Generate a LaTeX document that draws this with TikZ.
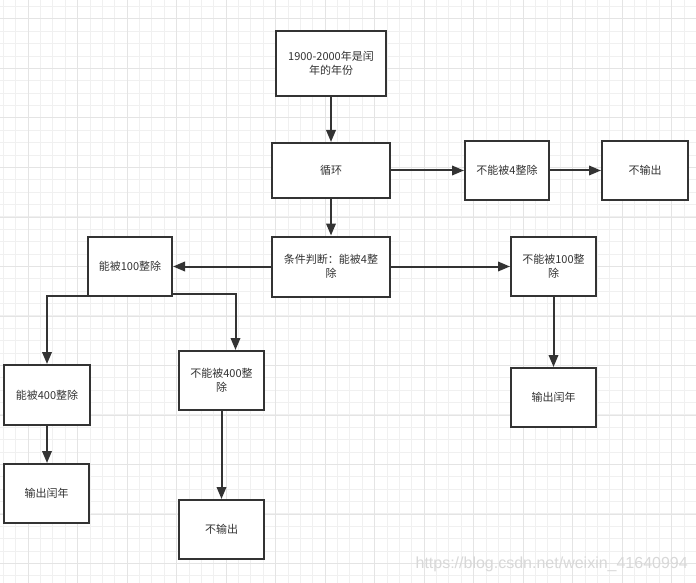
\documentclass[tikz,border=0pt]{standalone}
\usepackage{fontspec}
\setmainfont{Noto Sans CJK SC}
\newfontfamily\wmfont{Liberation Sans}
\usetikzlibrary{arrows.meta}
\definecolor{ink}{HTML}{333333}
\definecolor{gminor}{HTML}{F0F0F0}
\definecolor{gmajor}{HTML}{E4E4E4}
\definecolor{wm}{HTML}{D8D8D8}
\begin{document}
\begin{tikzpicture}[x=1bp,y=-1bp,
  box/.style={draw=ink,line width=2bp,fill=white,inner sep=2bp,align=center,
    text=ink,font=\fontsize{11bp}{14.4bp}\selectfont},
  conn/.style={draw=ink,line width=2bp,-{Triangle[length=12bp,width=9.5bp]}},
  minorline/.style={draw=gminor,line width=1bp},
  majorline/.style={draw=gmajor,line width=1bp}]
\useasboundingbox[fill=white] (0,0) rectangle (696,583);
% grid
\foreach \i in {0,...,56} {
  \draw[minorline] ({3.45+\i*12.375},0) -- ({3.45+\i*12.375},583);
}
\foreach \i in {0,...,47} {
  \draw[minorline] (0,{6.6+\i*12.375}) -- (696,{6.6+\i*12.375});
}
\foreach \i in {0,...,14} {
  \draw[majorline] ({28.2+\i*49.5},0) -- ({28.2+\i*49.5},583);
}
\foreach \i in {0,...,12} {
  \draw[majorline] (0,{19+\i*49.5}) -- (696,{19+\i*49.5});
}
% nodes
\node[box,minimum width=110bp,minimum height=65bp] (start) at (331,63.5) {1900-2000年是闰\\年的年份};
\node[box,minimum width=118bp,minimum height=55bp] (loop) at (331,170.5) {循环};
\node[box,minimum width=84bp,minimum height=59bp] (n4) at (507,170.5) {不能被4整除};
\node[box,minimum width=86bp,minimum height=59bp] (noout1) at (645,170.5) {不输出};
\node[box,minimum width=118bp,minimum height=60bp] (cond) at (331,266.5) {条件判断：能被4整\\除};
\node[box,minimum width=84bp,minimum height=59bp] (b100) at (130,266.5) {能被100整除};
\node[box,minimum width=85bp,minimum height=59bp] (nb100) at (553.5,266.5) {不能被100整\\除};
\node[box,minimum width=85bp,minimum height=59bp] (leapR) at (553.5,397.5) {输出闰年};
\node[box,minimum width=85bp,minimum height=60bp] (b400) at (47,395) {能被400整除};
\node[box,minimum width=85bp,minimum height=59bp] (nb400) at (221.5,380.5) {不能被400整\\除};
\node[box,minimum width=84bp,minimum height=59bp] (leapL) at (46.5,493.5) {输出闰年};
\node[box,minimum width=85bp,minimum height=59bp] (noout2) at (221.5,529.5) {不输出};
% connectors
\draw[conn] (start) -- (loop);
\draw[conn] (loop) -- (n4);
\draw[conn] (n4) -- (noout1);
\draw[conn] (loop) -- (cond);
\draw[conn] (cond.west) -- (cond.west -| b100.east);
\draw[conn] (cond.east) -- (cond.east -| nb100.west);
\draw[conn] (nb100) -- (leapR);
\draw[conn] ([yshift=1bp]b100.south west) -| (b400.north);
\draw[conn] ([yshift=3.5bp]b100.south east) -| ([xshift=14bp]nb400.north);
\draw[conn] (b400.south) -- (b400.south |- leapL.north);
\draw[conn] (nb400) -- (noout2);
% watermark
\node[anchor=east,inner sep=0pt,text=wm,font=\wmfont\fontsize{16bp}{18bp}\selectfont] (wmark) at (688,564) {https://blog.csdn.net/weixin\_41640994};
\end{tikzpicture}
\end{document}
